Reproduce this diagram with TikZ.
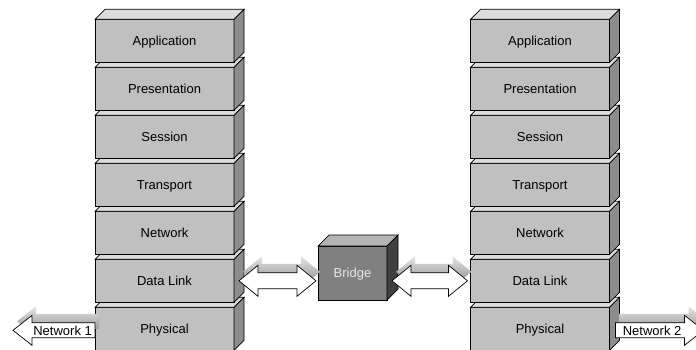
\documentclass[tikz,border=0pt]{standalone}
\usepackage{fontspec}
\setmainfont{Liberation Sans}
\usetikzlibrary{calc}

\definecolor{layerfront}{HTML}{C0C0C0}
\definecolor{layertop}{HTML}{DCDCDC}
\definecolor{layerside}{HTML}{8C8C8C}
\definecolor{bridgefront}{HTML}{808080}
\definecolor{bridgetop}{HTML}{B4B4B4}
\definecolor{bridgeside}{HTML}{404040}
\definecolor{bridgetext}{HTML}{E8E8E8}

% top and right faces of a box whose front face is node #1
\newcommand\boxfaces[4]{%
  \filldraw[fill=#3] (#1.north west) -- ++(#2,-#2) -- ([shift={(#2,-#2)}]#1.north east) -- (#1.north east) -- cycle;
  \filldraw[fill=#4] (#1.north east) -- ++(#2,-#2) -- ([shift={(#2,-#2)}]#1.south east) -- (#1.south east) -- cycle;}

% block arrow with a head at both ends: style, end A, end B, shift x, shift y
\newcommand\twowaydraw[5]{%
  \path[#1] let \p1=($(#2)+(#4,#5)$), \p2=($(#3)+(#4,#5)$) in
    (\x1,\y1) -- (\x1+19pt,\y1+15.5pt) -- (\x1+19pt,\y1+8pt) -- (\x2-19pt,\y1+8pt)
    -- (\x2-19pt,\y1+15.5pt) -- (\x2,\y1) -- (\x2-19pt,\y1-15.5pt) -- (\x2-19pt,\y1-8pt)
    -- (\x1+19pt,\y1-8pt) -- (\x1+19pt,\y1-15.5pt) -- cycle;}

% block arrow with one head: style, tail, tip, shift x, shift y, direction back from tip
\newcommand\onewaydraw[6]{%
  \path[#1] let \p1=($(#2)+(#4,#5)$), \p2=($(#3)+(#4,#5)$), \n1={\x2+(#6)*19pt} in
    (\x1,\y1-7.5pt) -- (\n1*1pt,\y1-7.5pt) -- (\n1*1pt,\y1-15pt) -- (\x2,\y1)
    -- (\n1*1pt,\y1+15pt) -- (\n1*1pt,\y1+7.5pt) -- (\x1,\y1+7.5pt) -- cycle;}

\begin{document}
\begin{tikzpicture}[x=1pt,y=-1pt,
  font=\fontsize{13}{15}\selectfont,
  line width=0.7pt, line join=miter,
  every node/.style={text height=9.4pt, text depth=0pt},
  layer/.style={draw=black, fill=layerfront, minimum width=139pt, minimum height=43pt,
    inner sep=0pt, outer sep=0pt},
  bridgebox/.style={draw=black, fill=bridgefront, text=bridgetext, minimum width=69pt,
    minimum height=54pt, inner sep=0pt, outer sep=0pt},
  arrowbody/.style={draw=black, fill=white},
  arrowshadow/.style={top color=black!10, bottom color=black!48},
  netlabel/.style={inner sep=0pt, anchor=west}]

\useasboundingbox (0,0) rectangle (696,349);
\clip (0,0) rectangle (696,349);

% two OSI stacks, drawn from the bottom layer upwards
\foreach \n/\t in {6/Physical,5/Data Link,4/Network,3/Transport,2/Session,1/Presentation,0/Application} {
  \node[layer] (L\n) at (164.5, 40.8+48*\n) {\t};
  \boxfaces{L\n}{10}{layertop}{layerside}
  \node[layer] (R\n) at (540, 40.8+48*\n) {\t};
  \boxfaces{R\n}{10}{layertop}{layerside}
}

% the bridge
\node[bridgebox] (bridge) at (352.5,273) {Bridge};
\boxfaces{bridge}{11}{bridgetop}{bridgeside}

% arrow ends
\coordinate (a1) at ($(L5.east)+(5,0)$);
\coordinate (a2) at ($(bridge.west |- L5.east)+(-2,0)$);
\coordinate (b1) at ($(bridge.east |- R5.west)+(5,0)$);
\coordinate (b2) at ($(R5.west)+(-3,0)$);
\coordinate (n1tail) at ($(L6.west)+(0,1.5)$);
\coordinate (n1tip) at ($(L6.west)+(-82,1.5)$);
\coordinate (n2tail) at ($(R6.east)+(6,1.5)$);
\coordinate (n2tip) at ($(R6.east)+(94,1.5)$);

% bridge links
\twowaydraw{arrowshadow}{a1}{a2}{4}{-9}
\twowaydraw{arrowbody}{a1}{a2}{0}{0}
\twowaydraw{arrowshadow}{b1}{b2}{4}{-9}
\twowaydraw{arrowbody}{b1}{b2}{0}{0}

% network attachments
\onewaydraw{arrowshadow}{n1tail}{n1tip}{4}{-9}{1}
\onewaydraw{arrowbody}{n1tail}{n1tip}{0}{0}{1}
\node[netlabel] (net1) at ($(n1tip)+(20,0)$) {Network 1};

\onewaydraw{arrowshadow}{n2tail}{n2tip}{4}{-9}{-1}
\onewaydraw{arrowbody}{n2tail}{n2tip}{0}{0}{-1}
\node[netlabel] (net2) at ($(n2tail)+(7,0)$) {Network 2};
\end{tikzpicture}
\end{document}
